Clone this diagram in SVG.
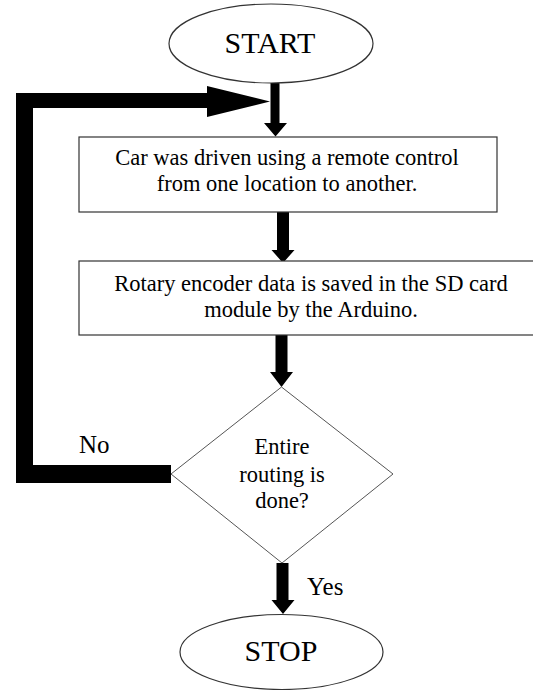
<svg xmlns="http://www.w3.org/2000/svg" width="533" height="690" viewBox="0 0 533 690">
<style>
.shape{fill:#fff;stroke:#333;stroke-width:1.2}
.dia{fill:#fff;stroke:#555;stroke-width:1}
text{font-family:"Liberation Serif","Tinos","Times New Roman","DejaVu Serif",serif;fill:#000}
.t{text-anchor:middle}
.b{font-size:22.5px}
.big{font-size:30px}
.lbl{font-size:25px}
.conn{fill:#000;stroke:none}
</style>
<rect width="533" height="690" fill="#fff"/>
<g id="connectors">
<path class="conn" d="M16,93 H207 V86 L270,101.5 L207,117 V108 H33 V465 H171 V483 H16 Z"/>
<path class="conn" d="M270.5,83 H279.5 V123 H287 L275.5,136.5 L264,123 H270.5 Z"/>
<path class="conn" d="M277,212 H289 V250 H294.5 L283,263 L271.5,250 H277 Z"/>
<path class="conn" d="M275.5,335 H287.5 V372 H293 L281.5,387 L270,372 H275.5 Z"/>
<path class="conn" d="M276.5,563 H288.5 V600 H294.5 L283,614 L271.5,600 H276.5 Z"/>
</g>
<g id="start">
<ellipse class="shape" cx="271" cy="43.5" rx="102" ry="39.5"/>
<text class="t big" x="270" y="53" font-family="Liberation Serif, DejaVu Serif, serif">START</text>
</g>
<g id="drive">
<rect class="shape" x="79" y="137" width="418" height="75"/>
<text class="t b" x="287" y="165">Car was driven using a remote control</text>
<text class="t b" x="287" y="191">from one location to another.</text>
</g>
<g id="save">
<rect class="shape" x="79" y="261" width="456" height="74"/>
<text class="t b" x="311" y="291">Rotary encoder data is saved in the SD card</text>
<text class="t b" x="311" y="317">module by the Arduino.</text>
</g>
<g id="decision">
<polygon class="dia" points="281.5,387 393,474 282,563 171,474"/>
<text class="t b" x="282" y="454">Entire</text>
<text class="t b" x="282" y="482">routing is</text>
<text class="t b" x="282" y="508">done?</text>
</g>
<g id="stop">
<ellipse class="shape" cx="281.5" cy="652" rx="101.5" ry="37.5"/>
<text class="t big" x="281" y="661">STOP</text>
</g>
<text class="lbl" x="79" y="453">No</text>
<text class="lbl" x="307" y="595">Yes</text>
</svg>
